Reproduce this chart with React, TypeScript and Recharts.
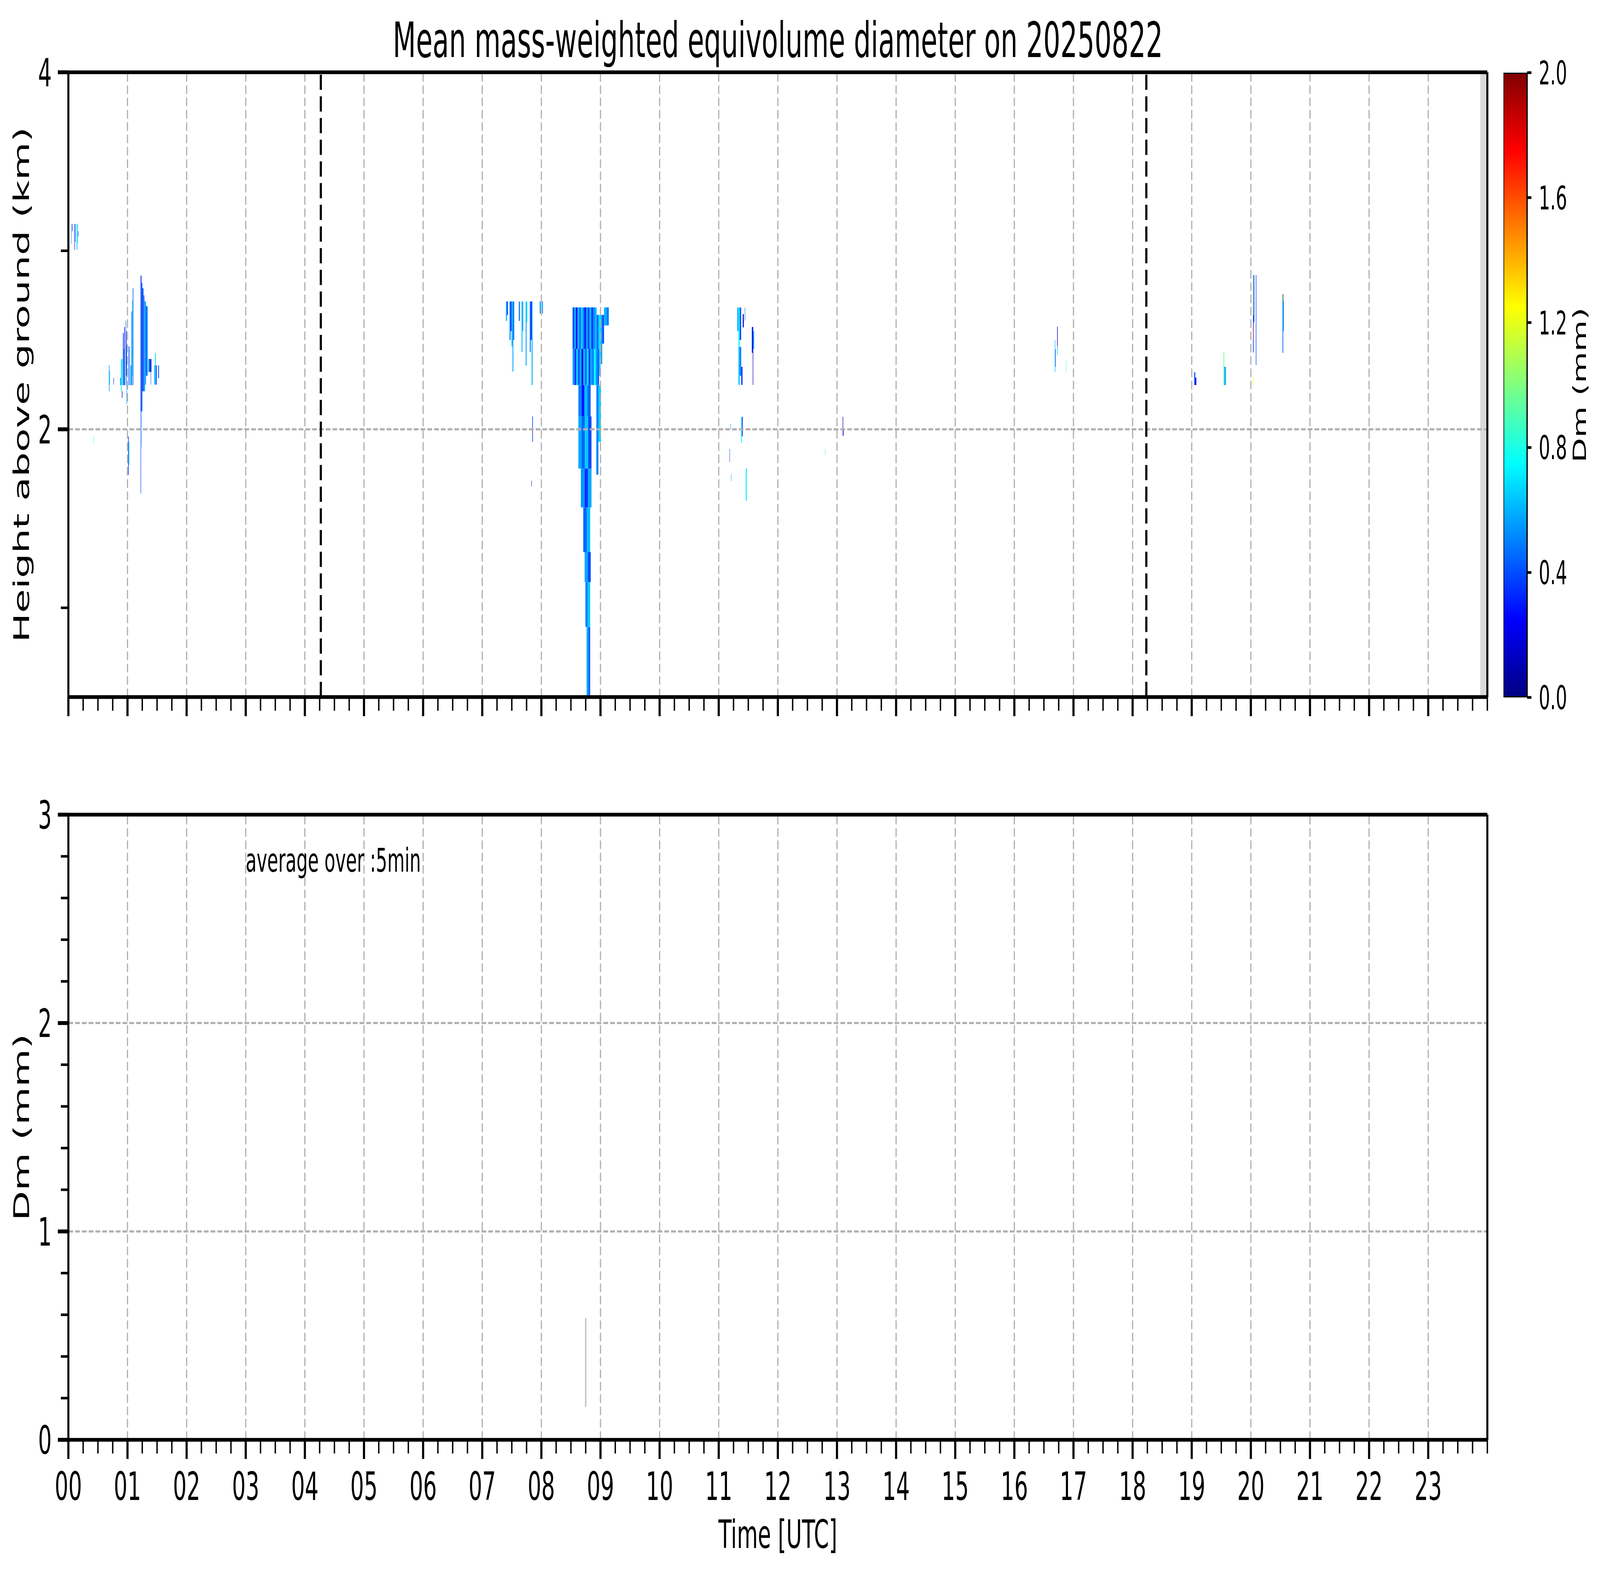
import {
  ComposedChart,
  XAxis,
  YAxis,
  Bar,
  Line,
  ReferenceArea,
  ReferenceLine,
  ReferenceDot,
} from 'recharts'

const FONT = "'DejaVu Sans', sans-serif"
const FIG_W = 7442
const FIG_H = 4031

// ---- axes / ticks ----
const hourLabels = ['00', '01', '02', '03', '04', '05', '06', '07', '08', '09', '10', '11',
  '12', '13', '14', '15', '16', '17', '18', '19', '20', '21', '22', '23']
const hourTicks = hourLabels.map((_, i) => i)
const quarterTicks = Array.from({ length: 97 }, (_, i) => i / 4)
const heightTicks = [1, 2, 3, 4]
const heightLabelled = [2, 4]
const dmTicks = [0, 0.2, 0.4, 0.6, 0.8, 1, 1.2, 1.4, 1.6, 1.8, 2, 2.2, 2.4, 2.6, 2.8, 3]
const dmLabelled = [0, 1, 2, 3]
const colorbarTicks = [0, 0.4, 0.8, 1.2, 1.6, 2.0]
const colorbarRange = [{ name: 'Dm', max: 2 }]

// sunrise / sunset markers (hours UTC)
const sunLines = [4.27, 18.232]
// no-data span at end of day
const missingSpan = [23.88, 24]

// surface Dm (5 min average)
const surfaceDm = [
  { t: 8.75, dm: 0.158 },
  { t: 8.75, dm: 0.583 },
]

// radar Dm cells: [start h, end h, bottom km, top km, Dm mm]
type Cell = [number, number, number, number, number]

const echo0005: Cell[] = [
  [0.046, 0.053, 3.04, 3.15, 0.55],
  [0.064, 0.072, 3.11, 3.15, 0.3],
  [0.105, 0.112, 3.005, 3.15, 0.22],
  [0.112, 0.12, 3.05, 3.15, 0.45],
  [0.139, 0.15, 3.005, 3.15, 0.62],
  [0.15, 0.161, 3.04, 3.15, 0.78],
  [0.166, 0.172, 3.08, 3.11, 0.3],
]

const echo0100: Cell[] = [
  [0.42, 0.426, 1.92, 1.96, 0.75],
  [0.686, 0.694, 2.213, 2.358, 0.5],
  [0.694, 0.704, 2.25, 2.33, 0.7],
  [0.763, 0.769, 2.25, 2.288, 0.12],
  [0.875, 0.89, 2.247, 2.288, 0.55],
  [0.89, 0.9, 2.213, 2.394, 0.65],
  [0.9, 0.918, 2.247, 2.394, 0.8],
  [0.905, 0.914, 2.176, 2.213, 0.15],
  [0.923, 0.935, 2.247, 2.539, 0.35],
  [0.935, 0.945, 2.247, 2.45, 0.58],
  [0.945, 0.955, 2.247, 2.573, 0.25],
  [0.968, 0.976, 2.247, 2.609, 0.5],
  [0.976, 0.984, 2.3, 2.55, 0.2],
  [0.984, 0.992, 2.14, 2.47, 0.55],
  [1.01, 1.02, 1.745, 1.96, 0.35],
  [1.02, 1.03, 1.8, 1.93, 0.62],
  [1.02, 1.033, 2.247, 2.464, 0.4],
  [1.047, 1.066, 2.247, 2.358, 0.58],
  [1.066, 1.078, 2.247, 2.66, 0.5],
  [1.078, 1.088, 2.3, 2.72, 0.7],
  [1.088, 1.099, 2.247, 2.79, 0.45],
  [1.222, 1.229, 1.64, 2.86, 0.35],
  [1.229, 1.236, 2.1, 2.86, 0.15],
  [1.236, 1.242, 1.9, 2.82, 0.62],
  [1.242, 1.252, 2.1, 2.82, 0.45],
  [1.252, 1.262, 2.213, 2.79, 0.25],
  [1.262, 1.272, 2.213, 2.79, 0.55],
  [1.272, 1.285, 2.213, 2.75, 0.4],
  [1.285, 1.298, 2.213, 2.72, 0.62],
  [1.298, 1.312, 2.25, 2.715, 0.5],
  [1.312, 1.325, 2.3, 2.69, 0.3],
  [1.325, 1.344, 2.3, 2.69, 0.58],
  [1.353, 1.372, 2.321, 2.394, 0.55],
  [1.372, 1.392, 2.321, 2.394, 0.35],
  [1.392, 1.404, 2.321, 2.394, 0.1],
  [1.392, 1.398, 2.25, 2.321, 0.35],
  [1.452, 1.465, 2.25, 2.358, 0.55],
  [1.465, 1.48, 2.25, 2.427, 0.72],
  [1.48, 1.493, 2.25, 2.358, 0.3],
  [1.52, 1.533, 2.286, 2.358, 0.4],
]

const echo0740: Cell[] = [
  [7.401, 7.418, 2.607, 2.716, 0.58],
  [7.418, 7.434, 2.64, 2.716, 0.35],
  [7.462, 7.48, 2.5, 2.716, 0.5],
  [7.48, 7.495, 2.55, 2.716, 0.3],
  [7.495, 7.512, 2.465, 2.716, 0.62],
  [7.512, 7.526, 2.323, 2.716, 0.58],
  [7.526, 7.54, 2.5, 2.716, 0.4],
  [7.618, 7.637, 2.607, 2.716, 0.5],
  [7.665, 7.68, 2.432, 2.716, 0.62],
  [7.68, 7.693, 2.55, 2.716, 0.55],
  [7.735, 7.75, 2.357, 2.716, 0.58],
  [7.75, 7.763, 2.6, 2.716, 0.72],
  [7.805, 7.82, 2.432, 2.716, 0.45],
  [7.82, 7.835, 2.5, 2.716, 0.25],
  [7.835, 7.852, 2.248, 2.716, 0.62],
  [7.846, 7.857, 1.93, 2.072, 0.4],
  [7.848, 7.853, 1.97, 2.0, 1.8],
  [7.829, 7.835, 1.68, 1.713, 0.1],
  [7.972, 7.99, 2.649, 2.716, 0.55],
  [7.995, 8.01, 2.67, 2.716, 0.72],
  [8.015, 8.027, 2.649, 2.716, 0.5],
]

const echo0845: Cell[] = [
  // upper block
  [8.528, 8.555, 2.45, 2.683, 0.4],
  [8.555, 8.585, 2.45, 2.683, 0.58],
  [8.585, 8.61, 2.45, 2.683, 0.25],
  [8.61, 8.64, 2.45, 2.683, 0.6],
  [8.64, 8.67, 2.45, 2.683, 0.45],
  [8.67, 8.7, 2.45, 2.683, 0.65],
  [8.7, 8.725, 2.45, 2.683, 0.5],
  [8.725, 8.755, 2.45, 2.683, 0.3],
  [8.755, 8.785, 2.45, 2.683, 0.55],
  [8.785, 8.815, 2.45, 2.683, 0.4],
  [8.815, 8.845, 2.45, 2.683, 0.6],
  [8.845, 8.875, 2.45, 2.683, 0.35],
  [8.875, 8.905, 2.45, 2.683, 0.5],
  [8.905, 8.935, 2.45, 2.683, 0.62],
  [8.935, 8.965, 2.45, 2.641, 0.45],
  [8.965, 9.002, 2.45, 2.641, 0.68],
  // lower block
  [8.528, 8.56, 2.248, 2.45, 0.55],
  [8.56, 8.59, 2.248, 2.45, 0.35],
  [8.59, 8.62, 2.248, 2.45, 0.65],
  [8.62, 8.65, 2.248, 2.45, 0.4],
  [8.65, 8.68, 2.248, 2.45, 0.58],
  [8.68, 8.71, 2.248, 2.45, 0.2],
  [8.71, 8.74, 2.248, 2.45, 0.6],
  [8.74, 8.77, 2.248, 2.45, 0.45],
  [8.77, 8.8, 2.248, 2.45, 0.68],
  [8.8, 8.83, 2.248, 2.45, 0.35],
  [8.83, 8.86, 2.248, 2.45, 0.58],
  [8.86, 8.89, 2.248, 2.45, 0.5],
  [8.89, 8.92, 2.248, 2.45, 0.75],
  [8.92, 8.95, 2.248, 2.45, 0.55],
  [8.95, 8.975, 2.248, 2.45, 0.4],
  [8.975, 9.0, 2.3, 2.45, 0.62],
  // right edge
  [9.002, 9.03, 2.365, 2.641, 0.58],
  [9.03, 9.06, 2.48, 2.641, 0.4],
  [9.06, 9.1, 2.582, 2.683, 0.6],
  [9.1, 9.141, 2.582, 2.683, 0.5],
  // fall streak to the ground
  [8.626, 8.68, 2.072, 2.248, 0.5],
  [8.68, 8.73, 2.072, 2.248, 0.3],
  [8.73, 8.78, 2.072, 2.248, 0.62],
  [8.78, 8.834, 2.072, 2.248, 0.45],
  [8.626, 8.68, 1.78, 2.072, 0.58],
  [8.68, 8.735, 1.78, 2.072, 0.45],
  [8.735, 8.79, 1.78, 2.072, 0.65],
  [8.79, 8.848, 1.78, 2.072, 0.4],
  [8.668, 8.73, 1.562, 1.78, 0.55],
  [8.73, 8.79, 1.562, 1.78, 0.35],
  [8.79, 8.848, 1.562, 1.78, 0.58],
  [8.709, 8.77, 1.312, 1.562, 0.45],
  [8.77, 8.826, 1.312, 1.562, 0.62],
  [8.732, 8.785, 1.144, 1.312, 0.58],
  [8.785, 8.835, 1.144, 1.312, 0.4],
  [8.745, 8.785, 0.893, 1.144, 0.5],
  [8.785, 8.826, 0.893, 1.144, 0.65],
  [8.765, 8.795, 0.505, 0.893, 0.58],
  [8.795, 8.826, 0.505, 0.893, 0.45],
  [8.93, 8.965, 1.746, 2.248, 0.5],
  [8.965, 9.01, 1.93, 2.248, 0.65],
]

const echo1120: Cell[] = [
  [11.182, 11.188, 1.817, 1.89, 0.35],
  [11.2, 11.206, 2.0, 2.03, 0.55],
  [11.208, 11.214, 1.71, 1.746, 0.55],
  [11.314, 11.334, 2.55, 2.682, 0.55],
  [11.334, 11.355, 2.462, 2.682, 0.75],
  [11.355, 11.379, 2.5, 2.682, 0.4],
  [11.334, 11.355, 2.249, 2.462, 0.62],
  [11.355, 11.38, 2.3, 2.462, 0.5],
  [11.38, 11.402, 2.249, 2.35, 0.35],
  [11.406, 11.424, 2.571, 2.645, 0.15],
  [11.441, 11.447, 2.609, 2.682, 0.4],
  [11.457, 11.474, 1.6, 1.78, 0.72],
  [11.379, 11.392, 1.925, 2.07, 0.75],
  [11.392, 11.406, 1.96, 2.07, 0.35],
  [11.56, 11.575, 2.428, 2.573, 0.3],
  [11.575, 11.583, 2.249, 2.573, 0.1],
  [11.583, 11.598, 2.45, 2.55, 0.55],
  [12.797, 12.803, 1.853, 1.89, 0.82],
  [13.097, 13.105, 1.964, 2.07, 0.1],
  [13.105, 13.112, 1.964, 2.0, 0.25],
]

const echo1645: Cell[] = [
  [16.684, 16.692, 2.32, 2.5, 0.6],
  [16.692, 16.7, 2.35, 2.45, 0.4],
  [16.724, 16.733, 2.465, 2.575, 0.15],
  [16.724, 16.733, 2.42, 2.465, 0.65],
  [16.872, 16.878, 2.32, 2.393, 0.9],
]

const echo1930: Cell[] = [
  [19.042, 19.06, 2.248, 2.32, 0.4],
  [19.06, 19.077, 2.248, 2.29, 0.2],
  [19.538, 19.55, 2.248, 2.43, 0.95],
  [19.55, 19.565, 2.248, 2.35, 0.62],
  [19.565, 19.579, 2.248, 2.35, 0.55],
  [20.037, 20.048, 2.64, 2.864, 0.9],
  [20.037, 20.048, 2.43, 2.64, 0.35],
  [20.04, 20.046, 2.5, 2.58, 1.7],
  [20.048, 20.058, 2.6, 2.864, 0.15],
  [20.084, 20.093, 2.36, 2.864, 0.4],
  [20.037, 20.045, 2.248, 2.29, 1.25],
  [20.536, 20.548, 2.428, 2.757, 0.45],
  [20.548, 20.559, 2.55, 2.72, 0.58],
  [20.548, 20.559, 2.72, 2.757, 1.3],
]

const echoCells: Cell[] = [
  ...echo0005, ...echo0100, ...echo0740, ...echo0845,
  ...echo1120, ...echo1645, ...echo1930,
]

// jet colormap, v in 0..1
function jet(v: number) {
  const c = (x: number) => Math.round(255 * Math.max(0, Math.min(1, x)))
  const r = c(1.5 - Math.abs(4 * v - 3))
  const g = c(1.5 - Math.abs(4 * v - 2))
  const b = c(1.5 - Math.abs(4 * v - 1))
  return `rgb(${r},${g},${b})`
}
const jetStops = [0, 0.125, 0.25, 0.375, 0.5, 0.625, 0.75, 0.875, 1]

const GRID = { stroke: '#b0b0b0', strokeWidth: 5.5, strokeDasharray: '22 9.5' }
const SPINE = { stroke: '#000', strokeWidth: 9.5 }

function TimeTick(props: any) {
  const { x, y, payload, labelled } = props
  const idx = hourTicks.indexOf(payload.value)
  const major = idx >= 0
  return (
    <g>
      <line x1={x} x2={x} y1={y} y2={y + (major ? 49 : 35)} stroke="#000" strokeWidth={major ? 10 : 6.5} />
      {major && labelled && (
        <text x={x} y={y + 154} textAnchor="middle" fontSize={100} fontFamily={FONT} fill="#000">
          {hourLabels[idx]}
        </text>
      )}
    </g>
  )
}

function ValueTick(props: any) {
  const { x, y, payload, labelled } = props
  const major = labelled.includes(payload.value)
  return (
    <g>
      <line x1={x - (major ? 49 : 35)} x2={x} y1={y} y2={y} stroke="#000" strokeWidth={major ? 10 : 6.5} />
      {major && (
        <text x={x - 77} y={y + 36} textAnchor="end" fontSize={100} fontFamily={FONT} fill="#000">
          {payload.value}
        </text>
      )}
    </g>
  )
}

function ColorbarTick(props: any) {
  const { x, y, payload } = props
  return (
    <g>
      <line x1={x} x2={x + 20} y1={y} y2={y} stroke="#000" strokeWidth={7} />
      <text x={x + 54} y={y + 30} textAnchor="start" fontSize={83} fontFamily={FONT} fill="#000">
        {payload.value.toFixed(1)}
      </text>
    </g>
  )
}

function HeightPanel() {
  return (
    <ComposedChart width={FIG_W} height={1900} margin={{ top: 184, right: 523, bottom: 0, left: 0 }}>
      {echoCells.map(([t0, t1, z0, z1, dm], i) => (
        <ReferenceArea key={i} x1={t0} x2={t1} y1={z0} y2={z1} fill={jet(dm / 2)} fillOpacity={1} stroke="none" />
      ))}
      <ReferenceArea x1={missingSpan[0]} x2={missingSpan[1]} y1={0.5} y2={4} fill="#d9d9d9" fillOpacity={1} stroke="none" />
      {hourTicks.slice(1).map(h => (
        <ReferenceLine key={'g' + h} x={h} {...GRID} />
      ))}
      <ReferenceLine y={2} {...GRID} />
      {sunLines.map(h => (
        <ReferenceLine key={'s' + h} x={h} stroke="#000" strokeWidth={10} strokeDasharray="39 16.5" />
      ))}
      <XAxis
        type="number"
        dataKey="t"
        domain={[0, 24]}
        ticks={quarterTicks}
        interval={0}
        allowDataOverflow
        height={116}
        tickSize={0}
        tickMargin={0}
        tickLine={false}
        axisLine={SPINE}
        tick={(p: any) => <TimeTick {...p} labelled={false} />}
      />
      <XAxis
        xAxisId="frameTop"
        orientation="top"
        type="number"
        domain={[0, 24]}
        allowDataOverflow
        height={1}
        tick={false}
        tickLine={false}
        axisLine={SPINE}
        label={() => (
          <text x={3618} y={145.7} textAnchor="middle" fontSize={125} fontFamily={FONT} fill="#000">
            Mean mass-weighted equivolume diameter on 20250822
          </text>
        )}
      />
      <YAxis
        type="number"
        domain={[0.5, 4]}
        ticks={heightTicks}
        interval={0}
        allowDataOverflow
        width={318}
        tickSize={0}
        tickMargin={0}
        tickLine={false}
        axisLine={SPINE}
        tick={(p: any) => <ValueTick {...p} labelled={heightLabelled} />}
        label={() => (
          <text transform={`translate(134, ${185 + 799.5}) rotate(-90)`} textAnchor="middle" fontSize={100} fontFamily={FONT} fill="#000">
            Height above ground (km)
          </text>
        )}
      />
      <YAxis
        yAxisId="frameRight"
        orientation="right"
        type="number"
        domain={[0.5, 4]}
        allowDataOverflow
        width={1}
        tick={false}
        tickLine={false}
        axisLine={SPINE}
      />
    </ComposedChart>
  )
}

function SurfacePanel() {
  return (
    <ComposedChart width={FIG_W} height={2131} data={surfaceDm} margin={{ top: 184, right: 523, bottom: 0, left: 0 }}>
      {hourTicks.slice(1).map(h => (
        <ReferenceLine key={'g' + h} x={h} {...GRID} />
      ))}
      <ReferenceLine y={1} {...GRID} />
      <ReferenceLine y={2} {...GRID} />
      <Line dataKey="dm" stroke="#c0c0c0" strokeWidth={6} dot={false} isAnimationActive={false} />
      <ReferenceDot
        x={3}
        y={2.726}
        r={0}
        shape={(p: any) => (
          <text x={p.cx} y={p.cy} fontSize={83} fontFamily={FONT} fill="#000">
            average over :5min
          </text>
        )}
      />
      <XAxis
        type="number"
        dataKey="t"
        domain={[0, 24]}
        ticks={quarterTicks}
        interval={0}
        allowDataOverflow
        height={346}
        tickSize={0}
        tickMargin={0}
        tickLine={false}
        axisLine={SPINE}
        tick={(p: any) => <TimeTick {...p} labelled />}
        label={() => (
          <text x={3618} y={1785 + 277} textAnchor="middle" fontSize={100} fontFamily={FONT} fill="#000">
            Time [UTC]
          </text>
        )}
      />
      <XAxis
        xAxisId="frameTop"
        orientation="top"
        type="number"
        domain={[0, 24]}
        allowDataOverflow
        height={1}
        tick={false}
        tickLine={false}
        axisLine={SPINE}
      />
      <YAxis
        type="number"
        domain={[0, 3]}
        ticks={dmTicks}
        interval={0}
        allowDataOverflow
        width={318}
        tickSize={0}
        tickMargin={0}
        tickLine={false}
        axisLine={SPINE}
        tick={(p: any) => <ValueTick {...p} labelled={dmLabelled} />}
        label={() => (
          <text transform={`translate(134, ${185 + 800}) rotate(-90)`} textAnchor="middle" fontSize={100} fontFamily={FONT} fill="#000">
            Dm (mm)
          </text>
        )}
      />
      <YAxis
        yAxisId="frameRight"
        orientation="right"
        type="number"
        domain={[0, 3]}
        allowDataOverflow
        width={1}
        tick={false}
        tickLine={false}
        axisLine={SPINE}
      />
    </ComposedChart>
  )
}

function Colorbar() {
  return (
    <ComposedChart
      width={449}
      height={1900}
      data={colorbarRange}
      barCategoryGap={0}
      margin={{ top: 186, right: 0, bottom: 115, left: 0 }}
    >
      <defs>
        <linearGradient id="jetScale" x1="0" y1="1" x2="0" y2="0">
          {jetStops.map(s => (
            <stop key={s} offset={s} stopColor={jet(s)} />
          ))}
        </linearGradient>
      </defs>
      <XAxis dataKey="name" type="category" hide />
      <YAxis
        orientation="right"
        type="number"
        domain={[0, 2]}
        allowDataOverflow
        ticks={colorbarTicks}
        interval={0}
        width={339}
        tickSize={0}
        tickMargin={0}
        tickLine={false}
        axisLine={false}
        tick={(p: any) => <ColorbarTick {...p} />}
        label={() => (
          <text transform={`translate(383, ${186 + 799.5}) rotate(-90)`} textAnchor="middle" fontSize={83} fontFamily={FONT} fill="#000">
            Dm (mm)
          </text>
        )}
      />
      <Bar dataKey="max" fill="url(#jetScale)" stroke="#000" strokeWidth={6} isAnimationActive={false} />
    </ComposedChart>
  )
}

export default function App() {
  // the figure is laid out at 7442x4031; if the window is smaller, fit it to the window
  const vw = document.documentElement.clientWidth || window.innerWidth || FIG_W
  const vh = window.innerHeight || document.documentElement.clientHeight || FIG_H
  const sx = Math.min(1, vw / FIG_W)
  const sy = Math.min(1, vh / FIG_H)
  return (
    <div style={{ position: 'absolute', left: 0, top: 0, width: FIG_W * sx, height: FIG_H * sy, overflow: 'hidden', background: '#fff' }}>
      <div style={{ position: 'absolute', left: 0, top: 0, width: FIG_W, height: FIG_H, transform: `scale(${sx}, ${sy})`, transformOrigin: '0 0' }}>
        <div style={{ position: 'absolute', left: 0, top: 0 }}>
          <HeightPanel />
        </div>
        <div style={{ position: 'absolute', left: 0, top: 1900 }}>
          <SurfacePanel />
        </div>
        <div style={{ position: 'absolute', left: 6993, top: 0 }}>
          <Colorbar />
        </div>
      </div>
    </div>
  )
}
